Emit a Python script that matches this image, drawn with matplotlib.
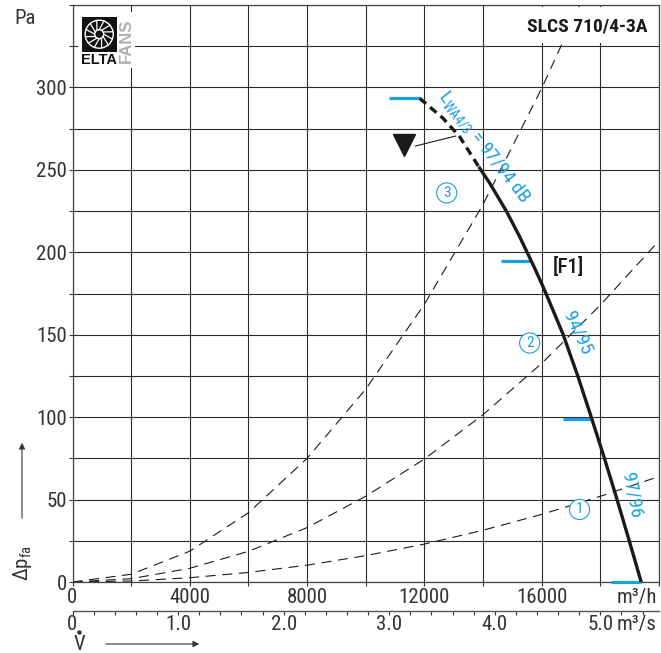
import matplotlib
matplotlib.use("Agg")
import matplotlib.pyplot as plt
import numpy as np
from matplotlib import font_manager
from matplotlib.patches import Rectangle, Circle
from matplotlib.lines import Line2D

# pick a condensed sans if one is installed
have = {f.name for f in font_manager.fontManager.ttflist}
narrow = [n for n in ["Liberation Sans Narrow", "Arial Narrow", "Nimbus Sans Narrow",
                      "Roboto Condensed", "Archivo Narrow", "PT Sans Narrow",
                      "Fira Sans Condensed", "IBM Plex Sans Condensed",
                      "Open Sans Condensed"] if n in have]
plt.rcParams["font.family"] = narrow[:1] + ["Liberation Sans", "DejaVu Sans"]

# ------------------------------------------------------------
# data (flow in m3/h, pressure in Pa)
# ------------------------------------------------------------

fan_q_dashed = [11840, 12636, 13203, 13885]
fan_p_dashed = [293.4, 281.3, 270.1, 251]

fan_q = [13885, 14225, 14794, 15247, 15758, 16099, 16723, 17230, 17690, 18140,
         18570, 18985, 19393]
fan_p = [251, 242, 225, 209.5, 190.5, 177, 150.5, 125, 100, 75, 50, 25, 0]

sys_q = [0, 2000, 4000, 6000, 8000, 10000, 12000, 14000, 16000, 18000, 20000]
sys1_p = [0, 0.6, 2.6, 5.8, 10.2, 16, 23, 31.4, 41, 52, 64]
sys2_p = [0, 2, 8.3, 18.6, 33, 52, 74.6, 101.5, 132.6, 168, 207]
sys3_q = [0, 2000, 4000, 6000, 8000, 10000, 12000, 14000, 16000, 17300]
sys3_p = [0, 4.7, 18.7, 42, 75, 117, 168.5, 229, 299.5, 350]

mark_p = [293.4, 195, 99, 0]
mark_q_from = [10800, 14624, 16723, 18372]
mark_q_to = [11840, 15640, 17690, 19393]

circle_txt = ["1", "2", "3"]
circle_q = [17290, 15590, 12760]
circle_p = [44, 145, 236]

level_txt = ["97/96", "94/95"]
level_q = [19086, 17235]
level_p = [52.8, 150.8]
level_rot = [-79, -65]

x_ticks = list(range(0, 20001, 2000))
x_labels = ["0", "", "4000", "", "8000", "", "12000", "", "16000", "", ""]
y_ticks = list(range(0, 351, 25))
y_labels = ["0", "", "50", "", "100", "", "150", "", "200", "", "250", "", "300", "", ""]
s_ticks = [0, 1, 2, 3, 4, 5]
s_labels = ["0", "1.0", "2.0", "3.0", "4.0", "5.0"]

BLUE = "#1a9fe0"
INK = "#1a1a1a"
GREY = "#333333"

# ------------------------------------------------------------
# figure
# ------------------------------------------------------------

W, H = 661, 653
fig = plt.figure(figsize=(W / 100, H / 100), dpi=100)

ax = fig.add_axes([72.5 / W, 1 - 582 / H, (659 - 72.5) / W, (582 - 5) / H])
ax.set_xlim(0, 20000)
ax.set_ylim(0, 350)

ax.set_xticks(x_ticks)
ax.set_xticklabels(x_labels)
ax.set_yticks(y_ticks)
ax.set_yticklabels(y_labels)
ax.grid(True, color="#2a2a2a", lw=0.8)
ax.set_axisbelow(True)
ax.tick_params(direction="out", length=3, width=0.8, color=GREY,
               labelsize=15, labelcolor=GREY, pad=1)
for s in ax.spines.values():
    s.set_color("#444444")
    s.set_linewidth(0.9)

# system curves
for q, p in [(sys_q, sys1_p), (sys_q, sys2_p), (sys3_q, sys3_p)]:
    ax.plot(q, p, color=INK, lw=0.8, dashes=(9, 6), zorder=2)

# fan curve
ax.plot(fan_q_dashed, fan_p_dashed, color=INK, lw=2.4, dashes=(2.5, 1.6),
        solid_capstyle="butt", zorder=5)
ax.plot(fan_q, fan_p, color=INK, lw=2.4, solid_joinstyle="round", zorder=5)

# blue operating marks
for q0, q1, p in zip(mark_q_from, mark_q_to, mark_p):
    ax.plot([q0, q1], [p, p], color=BLUE, lw=2.3, solid_capstyle="butt", zorder=4,
            clip_on=False)

# circled numbers
for t, q, p in zip(circle_txt, circle_q, circle_p):
    ax.text(q, p, t, color=BLUE, fontsize=11, ha="center", va="center", zorder=6,
            bbox=dict(boxstyle="circle,pad=0.2", fc="white", ec=BLUE, lw=0.8))

# sound levels
ax.text(14055, 264, r"L$_{\mathregular{WA4/3}}$ = 97/94 dB", color=BLUE, fontsize=14,
        rotation=-52, rotation_mode="anchor", ha="center", va="center", zorder=6)
for t, q, p, r in zip(level_txt, level_q, level_p, level_rot):
    ax.text(q, p, t, color=BLUE, fontsize=14, rotation=r, rotation_mode="anchor",
            ha="center", va="center", zorder=6)

ax.text(16893, 191, "[F1]", color=INK, fontsize=15, fontweight="medium",
        ha="center", va="center", zorder=6)

# triangle with leader
ax.plot(11295, 265, marker="v", ms=16, color=INK, zorder=6)
ax.plot([11700, 13066], [264.5, 270.5], color=INK, lw=0.8, zorder=6)

# title box
ax.add_patch(Rectangle((14500, 327), 5450, 22, fc="white", ec="none", zorder=3))
ax.text(19608, 336.7, "SLCS 710/4-3A", fontsize=14, fontweight="bold", color=INK,
        ha="right", va="center", zorder=6)

# unit labels
ax.annotate("m³/h", xy=(1, 0), xycoords="axes fraction", xytext=(-1.5, -11.5),
            textcoords="offset points", fontsize=15, color=GREY, ha="right", va="center")
fig.text(25 / W, 1 - 18 / H, "Pa", fontsize=15, color=GREY, ha="center", va="center")
fig.text(22 / W, 1 - 563 / H, r"Δp$_{\mathregular{fa}}$", fontsize=15, color=GREY,
         rotation=90, ha="center", va="center")
ax.annotate("", xy=(22, H - 440), xytext=(22, H - 521), xycoords="figure pixels",
            textcoords="figure pixels",
            arrowprops=dict(arrowstyle="-|>", color=GREY, lw=0.8, mutation_scale=9))

# second flow axis in m3/s
ax2 = fig.add_axes([72.5 / W, 1 - 611 / H, (659 - 72.5) / W, 0.0001])
ax2.set_xlim(0, 20000 / 3600)
ax2.patch.set_visible(False)
for k in ["left", "right", "top"]:
    ax2.spines[k].set_visible(False)
ax2.spines["bottom"].set_color("#555555")
ax2.spines["bottom"].set_linewidth(1.0)
ax2.set_yticks([])
ax2.set_xticks(s_ticks)
ax2.set_xticklabels(s_labels)
ax2.set_xticks(np.arange(0, 5.5, 0.2), minor=True)
ax2.tick_params(which="both", direction="out", length=3, width=0.8, color=GREY,
                labelsize=15, labelcolor=GREY, pad=0)
ax2.annotate("m³/s", xy=(1, 0), xycoords="axes fraction", xytext=(-1.5, -10),
             textcoords="offset points", fontsize=15, color=GREY, ha="right", va="center")

fig.text(79 / W, 1 - 644 / H, "V", fontsize=15, color=GREY, ha="center", va="center")
fig.add_artist(Line2D([79 / W], [1 - 632 / H], marker="o", ms=2.2, color=GREY,
                      transform=fig.transFigure))
ax.annotate("", xy=(202, H - 644), xytext=(103, H - 644), xycoords="figure pixels",
            textcoords="figure pixels",
            arrowprops=dict(arrowstyle="-|>", color=GREY, lw=0.8, mutation_scale=9))

# logo
lg = fig.add_axes([78 / W, 1 - 68 / H, 57 / W, 56 / H])
lg.set_xlim(0, 57)
lg.set_ylim(56, 0)
lg.axis("off")
lg.add_patch(Rectangle((0, 0), 57, 56, fc="white", ec="none"))
lg.add_patch(Rectangle((3.7, 4.7), 35, 35, fc="#111111", ec="none"))
cx, cy = 21.2, 22.2
lg.add_patch(Circle((cx, cy), 14, fc="none", ec="white", lw=1.0))
lg.add_patch(Circle((cx, cy), 4.5, fc="#111111", ec="white", lw=1.0))
for a in np.linspace(0, 2 * np.pi, 12, endpoint=False):
    lg.plot([cx + 4.5 * np.cos(a), cx + 14 * np.cos(a + 0.35)],
            [cy + 4.5 * np.sin(a), cy + 14 * np.sin(a + 0.35)], color="white", lw=0.9)
lg.text(21.2, 48, "ELTA", fontsize=10.5, fontweight="bold", color="#111111",
        ha="center", va="center", family=["Liberation Sans", "DejaVu Sans"])
lg.text(48, 29, "FANS", fontsize=12, fontweight="bold", color="#b0b0b0", rotation=90,
        ha="center", va="center", family=["Liberation Sans", "DejaVu Sans"])

fig.savefig("out.png", dpi=100)
